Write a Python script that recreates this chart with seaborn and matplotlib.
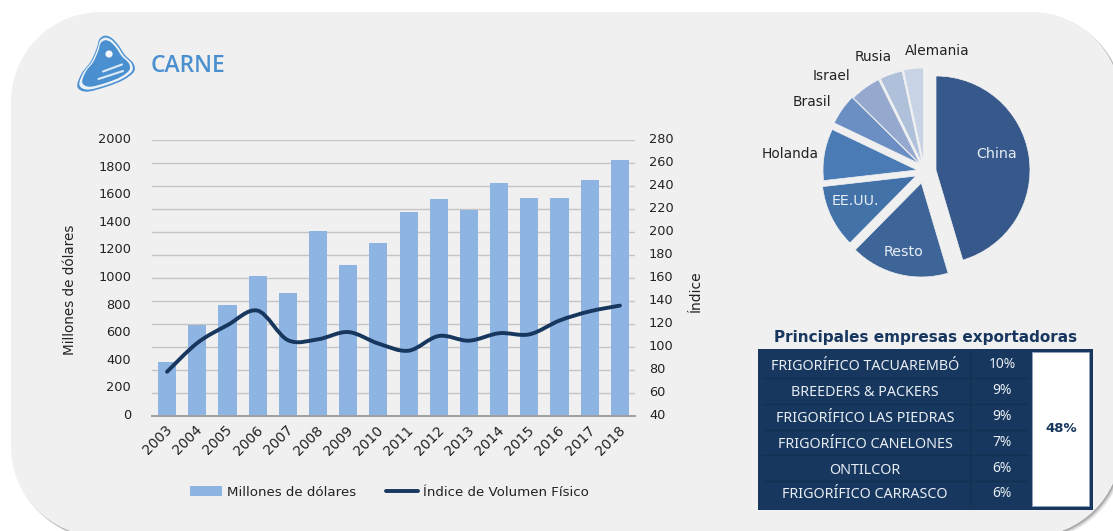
import numpy as np
import seaborn as sns
import matplotlib.pyplot as plt
from matplotlib.patches import PathPatch, Patch, Rectangle, Circle
from matplotlib.lines import Line2D
from matplotlib.path import Path
from matplotlib.transforms import ScaledTranslation

W, H = 1113, 531

years = ['2003', '2004', '2005', '2006', '2007', '2008', '2009', '2010',
         '2011', '2012', '2013', '2014', '2015', '2016', '2017', '2018']
millones = [391, 660, 804, 1014, 891, 1340, 1094, 1254,
            1478, 1572, 1493, 1688, 1580, 1580, 1710, 1855]
indice = [78.5, 103.5, 119, 131.6, 106, 106.7, 113, 103,
          96.8, 109.6, 105.5, 112, 111, 123, 131, 136]

paises = ['China', 'Resto', 'EE.UU.', 'Holanda', 'Brasil', 'Israel', 'Rusia', 'Alemania']
shares = [45.4, 17.0, 10.8, 8.9, 5.3, 5.3, 3.9, 3.4]
pie_colors = ['#37588a', '#3e6597', '#4272a8', '#4a7bb5',
              '#6b8fc2', '#95a9cf', '#afc0da', '#c8d3e6']

empresas = ['FRIGORÍFICO TACUAREMBÓ', 'BREEDERS & PACKERS', 'FRIGORÍFICO LAS PIEDRAS',
            'FRIGORÍFICO CANELONES', 'ONTILCOR', 'FRIGORÍFICO CARRASCO']
participacion = ['10%', '9%', '9%', '7%', '6%', '6%']
total = '48%'

PANEL = '#f0f0f0'
NAVY = '#17375e'
BLUE = '#4a90d0'

sns.set_theme(style='white')
plt.rcParams['font.family'] = ['DejaVu Sans']
plt.rcParams['text.color'] = '#222222'

fig = plt.figure(figsize=(W / 100, H / 100), dpi=100, facecolor='white')


def ax_px(left, top, right, bottom, **kw):
    return fig.add_axes([left / W, 1 - bottom / H, (right - left) / W, (bottom - top) / H], **kw)


def label(x, y, s, **kw):
    kw.setdefault('ha', 'center')
    kw.setdefault('va', 'center')
    kw.setdefault('fontsize', 10)
    fig.text(x / W, 1 - y / H, s, **kw)


def shift(labels, dx, dy):
    # nudge tick labels by some pixels
    for t in labels:
        t.set_transform(t.get_transform() + ScaledTranslation(dx / 100, dy / 100, fig.dpi_scale_trans))


def smooth_path(x, y, closed=False):
    # catmull-rom through the given points, as bezier segments
    pts = np.column_stack([x, y]).astype(float)
    n = len(pts)
    verts = [pts[0]]
    codes = [Path.MOVETO]
    for i in range(n if closed else n - 1):
        if closed:
            p0, p1, p2, p3 = pts[i - 1], pts[i], pts[(i + 1) % n], pts[(i + 2) % n]
        else:
            p0, p1, p2, p3 = pts[max(i - 1, 0)], pts[i], pts[i + 1], pts[min(i + 2, n - 1)]
        verts += [p1 + (p2 - p0) / 6, p2 - (p3 - p1) / 6, p2]
        codes += [Path.CURVE4] * 3
    return Path(verts, codes)


def round_rect(x0, y0, x1, y1, r):
    k = r * 0.448
    verts = [(x0 + r, y0), (x1 - r, y0), (x1 - k, y0), (x1, y0 + k), (x1, y0 + r),
             (x1, y1 - r), (x1, y1 - k), (x1 - k, y1), (x1 - r, y1),
             (x0 + r, y1), (x0 + k, y1), (x0, y1 - k), (x0, y1 - r),
             (x0, y0 + r), (x0, y0 + k), (x0 + k, y0), (x0 + r, y0)]
    c = Path.CURVE4
    codes = [Path.MOVETO, Path.LINETO, c, c, c, Path.LINETO, c, c, c,
             Path.LINETO, c, c, c, Path.LINETO, c, c, c]
    return Path(verts, codes)


# background panel, everything on this axes is in pixels
bg = ax_px(0, 0, W, H)
bg.set_xlim(0, W)
bg.set_ylim(H, 0)
bg.axis('off')
for off, a in zip([6, 5, 4, 3, 2, 1], [.06, .08, .1, .14, .18, .2]):
    bg.add_patch(PathPatch(round_rect(11 + off * .6, 12 + off * .6, 1121 + off * .6, 536.5 + off * .6, 90),
                           fc='#555555', ec='none', alpha=a))
bg.add_patch(PathPatch(round_rect(11, 12, 1121, 536.5, 90), fc=PANEL, ec='none'))

# meat icon, outer outline then ring then inside
blob_x = 70 + np.array([105, 125, 145, 165, 190, 192, 160, 110, 50, 22, 35, 62, 80, 88]) / 3
blob_y = 30 + np.array([17, 24, 45, 75, 100, 125, 150, 170, 185, 170, 130, 95, 55, 28]) / 3
cx, cy = blob_x.mean(), blob_y.mean()
for scale, col in zip([1, 0.93, 0.83], [BLUE, '#eaf1f8', BLUE]):
    blob = smooth_path(cx + (blob_x - cx) * scale, cy + (blob_y - cy) * scale, closed=True)
    bg.add_patch(PathPatch(blob, fc=col, ec='none'))
bg.add_patch(Circle((109, 54), 3.6, fc='#f4f8fc', ec='none'))
bg.plot([103, 122], [71.5, 64.5], color='#dce9f6', lw=1.5)
bg.plot([98.5, 123], [79, 71], color='#dce9f6', lw=1.5)
label(188, 66.5, 'CARNE', color=BLUE, fontsize=16.5, fontweight='semibold', family='Open Sans')

# bars + line, grid belongs to the right axis
ax = ax_px(152, 140, 635, 416)
ax2 = ax.twinx()
ax3 = ax.twinx()
ax2.set_zorder(1)
ax.set_zorder(2)
ax3.set_zorder(3)
ax.patch.set_visible(False)
ax2.patch.set_visible(False)
ax3.patch.set_visible(False)

sns.barplot(x=years, y=millones, color='#8db4e3', width=0.6, saturation=1, linewidth=0, ax=ax)
ax.set_ylim(0, 2000)
ax.set_yticks(range(0, 2001, 200))
ax.tick_params(axis='y', labelsize=9.3, length=0, pad=15, labelcolor='#222222')
ax.tick_params(axis='x', labelsize=10, length=0, pad=5, labelcolor='#222222')
plt.setp(ax.get_xticklabels(), rotation=45, ha='right', rotation_mode='anchor')
shift(ax.get_xticklabels(), -2, 0)
shift(ax.get_yticklabels(), 0, 2)

ax2.set_ylim(40, 280)
ax2.set_yticks(range(40, 281, 20))
ax2.tick_params(axis='y', labelsize=9.3, length=0, pad=10, labelcolor='#222222')
ax2.grid(axis='y', color='#c4c4c4', lw=1)
ax2.grid(False, axis='x')
shift(ax2.get_yticklabels(), 0, 2)

ax3.set_ylim(40, 280)
pos = np.arange(len(years))
sns.lineplot(x=pos, y=indice, ax=ax3, color=NAVY, lw=0, legend=False)
ax3.add_patch(PathPatch(smooth_path(pos, indice), fc='none', ec=NAVY, lw=2.8, capstyle='round'))
ax3.set_xlim(-0.5, 15.5)
ax3.set_yticks([])
ax3.set_ylabel('')

for a in (ax, ax2, ax3):
    for s in ('top', 'left', 'right'):
        a.spines[s].set_visible(False)
    a.spines['bottom'].set_color('#a0a0a0')

label(70, 290, 'Millones de dólares', rotation=90, fontsize=9.75)
label(696, 291, 'Índice', rotation=90, fontsize=10)

handles = [Patch(fc='#8db4e3', ec='none'), Line2D([0], [0], color=NAVY, lw=2.8)]
ax3.legend(handles, ['Millones de dólares', 'Índice de Volumen Físico'], ncol=2, frameon=False,
           loc='center left', bbox_to_anchor=((190 - 152) / 483, -(492 - 416) / 276),
           fontsize=9.6, handlelength=2.4, handleheight=0.75, handletextpad=0.38,
           columnspacing=2.2, borderpad=0, borderaxespad=0)

# pie, each slice moved by its own offset (pixels, y up)
pie_ax = ax_px(924 - 141, 172 - 141, 924 + 141, 172 + 141)
slice_shift = [(12, 2), (-2.7, -11), (-8, -4), (-7, 2), (-5, 8.5), (-3.8, 8), (-2, 9), (-0.5, 10)]
wedges, _ = pie_ax.pie(shares, colors=pie_colors, startangle=90, counterclock=False, radius=1,
                       wedgeprops=dict(edgecolor='#f2f2f2', linewidth=0.5))
for w, (dx, dy) in zip(wedges, slice_shift):
    w.set_center((dx / 94, dy / 94))
pie_ax.set_xlim(-1.5, 1.5)
pie_ax.set_ylim(-1.5, 1.5)
pie_ax.patch.set_visible(False)
pie_label_xy = [(997, 154), (904, 252), (855, 201), (790, 154),
                (812, 102), (831, 76), (873, 57), (937, 51)]
for name, (x, y), c in zip(paises, pie_label_xy, ['#e8eef6'] * 3 + ['#222222'] * 5):
    label(x, y, name, color=c, fontsize=10.3 if c != '#222222' else 9.9)

# table
label(926, 337.5, 'Principales empresas exportadoras', fontweight='bold', color=NAVY, fontsize=11)
bg.add_patch(Rectangle((758, 349), 335, 161, fc=NAVY, ec='none'))
bg.add_patch(Rectangle((1032, 352), 57, 154, fc='white', ec='#8fa3bd', lw=0.6))
for y in [378, 404, 430, 455, 481]:
    bg.plot([762, 1028], [y, y], color='#12304f', lw=1)
bg.plot([970, 970], [352, 506], color='#12304f', lw=1)
row_y = [366.5, 392, 418, 444, 470, 495]
for y, name, pct in zip(row_y, empresas, participacion):
    label(865, y, name, color='#e8eef4', fontsize=10.3, family='Noto Sans')
    label(1002, y - 1.5, pct, color='#e8eef4', fontsize=10, family='Noto Sans')
label(1061, 429, total, color=NAVY, fontsize=9.5, fontweight='bold')

fig.savefig('out.png', dpi=100, facecolor='white')
